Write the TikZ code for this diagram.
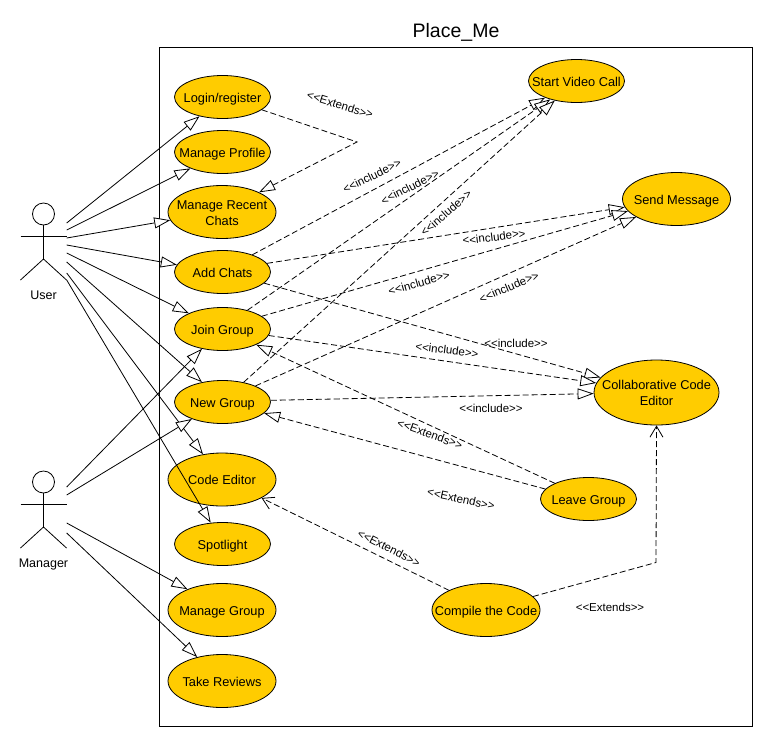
\documentclass[tikz,border=0pt]{standalone}
\usepackage{fontspec}
\setmainfont{Liberation Sans}
\usepackage{xcolor}
\usepackage{tikz}
\usetikzlibrary{arrows.meta,shapes.geometric}
\definecolor{caseyellow}{HTML}{FFCC00}
\newcommand{\incl}{{<}{<}include{>}{>}}
\newcommand{\extd}{{<}{<}Extends{>}{>}}

\tikzset{
  figure/.pic={
    \draw[line width=0.8pt] (0,-27.5) circle (11pt);
    \draw[line width=0.8pt] (0,-16.5) -- (0,17.5);
    \draw[line width=0.8pt] (-23,-5.5) -- (23,-5.5);
    \draw[line width=0.8pt] (-23,38.5) -- (0,17.5) -- (23,38.5);
  }
}

\begin{document}
\begin{tikzpicture}[
  x=1pt, y=-1pt,
  usecase/.style={ellipse, draw=black, line width=0.8pt, fill=caseyellow,
                  inner xsep=-30pt, inner ysep=-15pt,
                  minimum width=96pt, minimum height=43pt, align=center,
                  text height=10.6pt, text depth=0pt,
                  font=\fontsize{12.8}{16}\selectfont},
  bigcase/.style={usecase, minimum width=108pt, minimum height=53pt},
  twoline/.style={text height=26.6pt},
  actorbox/.style={rectangle, minimum width=46pt, minimum height=77pt, inner sep=0pt},
  actorlbl/.style={font=\fontsize{12.5}{15}\selectfont, inner sep=0pt, text height=9pt, text depth=0pt},
  lbl/.style={font=\fontsize{11.5}{14}\selectfont, inner sep=0pt},
  gen/.style={-{Triangle[length=16pt,width=11pt,fill=white]}, line width=0.8pt},
  dep/.style={gen, dash pattern=on 6pt off 3pt},
  ext/.style={-{Straight Barb[length=11pt,width=13pt]}, line width=0.8pt, dash pattern=on 6pt off 3pt}]
  \useasboundingbox (0,0) rectangle (768,742);

  % system boundary
  \node[font=\fontsize{19.5}{22}\selectfont, inner sep=0pt] (title) at (456,32.5) {Place\_Me};
  \draw[line width=0.8pt] (159.5,47) rectangle (752,726);

  % actors
  \node[actorbox] (user) at (43.5,241.5) {};
  \pic at (43.5,241.5) {figure};
  \node[actorlbl] (userlbl) at (43.5,295) {User};
  \node[actorbox] (manager) at (43.5,509.5) {};
  \pic at (43.5,509.5) {figure};
  \node[actorlbl] (managerlbl) at (43.5,563) {Manager};

  % use cases
  \node[usecase] (login) at (222.5,97) {Login/register};
  \node[usecase] (profile) at (222.5,152) {Manage Profile};
  \node[bigcase, twoline] (recent) at (222,212) {Manage Recent\\Chats};
  \node[usecase] (addchats) at (222.5,272) {Add Chats};
  \node[usecase] (joingroup) at (222.5,329) {Join Group};
  \node[usecase] (newgroup) at (222.5,402) {New Group};
  \node[bigcase] (codeeditor) at (222,479.5) {Code Editor};
  \node[usecase] (spotlight) at (222.5,544) {Spotlight};
  \node[bigcase] (managegroup) at (222,610) {Manage Group};
  \node[bigcase] (reviews) at (222,681) {Take Reviews};
  \node[usecase] (videocall) at (576.5,81) {Start Video Call};
  \node[bigcase] (sendmsg) at (676.5,199) {Send Message};
  \node[usecase, twoline, minimum width=125pt, minimum height=65pt] (collab) at (656.5,392.5) {Collaborative Code\\Editor};
  \node[usecase] (leave) at (588.5,499) {Leave Group};
  \node[bigcase] (compile) at (486,610) {Compile the Code};

  % bends
  \coordinate (bendext) at (357,142);
  \coordinate (bendcomp) at (656,562.5);

  % actor links
  \draw[gen] ([yshift=18.5pt]user.east) -- (login.220);
  \draw[gen] ([yshift=11.5pt]user.east) -- (profile.207);
  \draw[gen] ([yshift=3.5pt]user.east) -- (recent.189);
  \draw[gen] ([yshift=-3.5pt]user.east) -- (addchats.171);
  \draw[gen] ([yshift=-11.5pt]user.east) -- (joingroup.155);
  \draw[gen] ([yshift=-20.5pt]user.east) -- (newgroup.136);
  \draw[gen] ([yshift=-31.5pt]user.east) -- (codeeditor.127);
  \draw[gen] ([yshift=-38.5pt]user.east) -- (spotlight.119);
  \draw[gen] ([yshift=22.5pt]manager.east) -- (joingroup.224);
  \draw[gen] ([yshift=14.5pt]manager.east) -- (newgroup.209);
  \draw[gen] ([yshift=-13.5pt]manager.east) -- (managegroup.149);
  \draw[gen] ([yshift=-23.5pt]manager.east) -- (reviews.136);

  % include links
  \draw[dep] (addchats.30) -- (videocall.208);
  \draw[dep] (joingroup.37) -- (videocall.215);
  \draw[dep] (newgroup.43) -- (videocall.222);
  \draw[dep] (addchats.11) -- (sendmsg.189);
  \draw[dep] (joingroup.18) -- (sendmsg.194);
  \draw[dep] (newgroup.26) -- (sendmsg.204);
  \draw[dep] (addchats.-15) -- (collab.165);
  \draw[dep] (joingroup.-8) -- (collab.171);
  \draw[dep] (newgroup.2) -- (collab.181);

  % extend links
  \draw[dep] (login.-18) -- (bendext) -- (recent.28);
  \draw[dep] (leave.155) -- (joingroup.-25);
  \draw[dep] (leave.167) -- (newgroup.-15);
  \draw[ext] (compile.152) -- (codeeditor.-25);
  \draw[ext] (compile.16) -- (bendcomp) -- (collab.south);

  % labels
  \node[lbl, rotate=-17] (extlbla) at (340,105) {\extd};
  \node[lbl, rotate=26] (inclbla) at (372,176) {\incl};
  \node[lbl, rotate=27] (inclblb) at (410,187) {\incl};
  \node[lbl, rotate=41] (inclblc) at (446,213) {\incl};
  \node[lbl, rotate=7] (inclbld) at (494,237) {\incl};
  \node[lbl, rotate=16] (inclble) at (419,283) {\incl};
  \node[lbl, rotate=23] (inclblf) at (509,287) {\incl};
  \node[lbl] (inclblg) at (516,343) {\incl};
  \node[lbl, rotate=-7] (inclblh) at (447,350) {\incl};
  \node[lbl] (inclbli) at (491,408) {\incl};
  \node[lbl, rotate=-20] (extlblb) at (430,434) {\extd};
  \node[lbl, rotate=-12] (extlblc) at (461,499) {\extd};
  \node[lbl, rotate=-27] (extlbld) at (389,548) {\extd};
  \node[lbl] (extlble) at (610,607) {\extd};
\end{tikzpicture}
\end{document}
